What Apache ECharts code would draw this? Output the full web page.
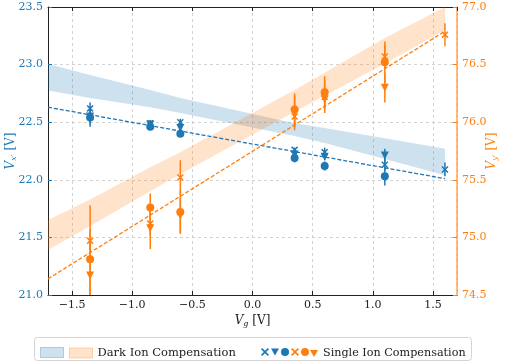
<!DOCTYPE html>
<html>
<head>
<meta charset="utf-8">
<script src="https://cdn.jsdelivr.net/npm/echarts@6/dist/echarts.min.js"></script>
<style>
  html, body { margin: 0; padding: 0; background: #fff; }
  #main { width: 505px; height: 362px; }
</style>
</head>
<body>
<div id="main"></div>
<script>
// gate voltages of the measurements
var gateV = [-1.35, -0.85, -0.6, 0.35, 0.6, 1.1, 1.6];

// V_x' (left axis), single ion compensation, three runs
var xCross = [22.62, 22.49, 22.50, 22.26, 22.24, 22.13, 22.09];
var xCrossErr = [0.05, 0.03, 0.03, 0.02, 0.04, 0.05, 0.06];
var xTri = [22.55, 22.48, 22.45, 22.22, 22.20, 22.21, null];
var xTriErr = [0.06, 0.03, 0.03, 0.03, 0.03, 0.06, null];
var xDot = [22.54, 22.46, 22.40, 22.19, 22.12, 22.03, null];
var xDotErr = [0.08, 0.03, 0.02, 0.04, 0.04, 0.08, null];

// V_y' (right axis), single ion compensation, three runs
var yCross = [74.97, 75.12, 75.52, 76.05, 76.22, 76.57, 76.76];
var yCrossErr = [0.10, 0.10, 0.15, 0.10, 0.14, 0.10, 0.10];
var yDot = [74.81, 75.26, 75.22, 76.11, 76.26, 76.52, null];
var yDotErr = [0.47, 0.12, 0.19, 0.14, 0.14, 0.18, null];
var yTri = [74.67, 75.08, 75.19, 76.08, 76.20, 76.30, null];
var yTriErr = [0.30, 0.18, 0.15, 0.15, 0.10, 0.13, null];

// linear fits (dashed)
var fitV = [-1.7, 1.6];
var fitX = [22.63, 22.01];
var fitY = [74.64, 76.79];

// dark ion compensation bands
var bandV = [-1.7, -1.35, -0.85, -0.6, 0.35, 0.6, 1.1, 1.6];
var bandXLo = [22.775, 22.71, 22.63, 22.58, 22.38, 22.32, 22.18, 22.04];
var bandXHi = [23.005, 22.91, 22.78, 22.71, 22.49, 22.45, 22.36, 22.27];
var bandYLo = [74.89, 75.10, 75.40, 75.55, 76.09, 76.23, 76.51, 76.80];
var bandYHi = [75.15, 75.33, 75.61, 75.74, 76.28, 76.43, 76.73, 77.00];

var blue = '#1f77b4';
var orange = '#ff7f0e';
var font = 'DejaVu Serif';
var crossPath = 'path://M0,1.5 L1.5,0 L5,3.5 L8.5,0 L10,1.5 L6.5,5 L10,8.5 L8.5,10 L5,6.5 L1.5,10 L0,8.5 L3.5,5 Z';
var triPath = 'path://M0,0 L10,0 L5,9 Z';

function fmt(v) {
    return v.toFixed(1).replace('-', '\u2212');
}

function pairs(vals) {
    var out = [];
    for (var i = 0; i < gateV.length; i++) {
        if (vals[i] != null) out.push([gateV[i], vals[i]]);
    }
    return out;
}

function errRows(vals, errs) {
    var out = [];
    for (var i = 0; i < gateV.length; i++) {
        if (vals[i] != null) out.push([gateV[i], vals[i] - errs[i], vals[i] + errs[i]]);
    }
    return out;
}

function errSeries(vals, errs, axis, color) {
    return {
        type: 'custom',
        yAxisIndex: axis,
        clip: true,
        silent: true,
        z: 3,
        data: errRows(vals, errs),
        encode: { x: 0, y: [1, 2] },
        renderItem: function (params, api) {
            var a = api.coord([api.value(0), api.value(1)]);
            var b = api.coord([api.value(0), api.value(2)]);
            return {
                type: 'line',
                shape: { x1: a[0], y1: a[1], x2: b[0], y2: b[1] },
                style: { stroke: color, lineWidth: 1.5 }
            };
        }
    };
}

function markSeries(name, vals, axis, color, symbol, size) {
    return {
        name: name,
        type: 'scatter',
        yAxisIndex: axis,
        symbol: symbol,
        symbolSize: size,
        itemStyle: { color: color, opacity: 1 },
        z: 4,
        data: pairs(vals)
    };
}

function bandSeries(name, lo, hi, axis, fill) {
    var rows = [];
    for (var i = 0; i < bandV.length; i++) rows.push([bandV[i], lo[i], hi[i]]);
    return {
        name: name,
        type: 'custom',
        yAxisIndex: axis,
        clip: true,
        silent: true,
        z: 1,
        itemStyle: { color: fill },
        data: rows,
        encode: { x: 0, y: [1, 2] },
        renderItem: function (params, api) {
            if (params.dataIndex !== 0) return null;
            var pts = [];
            for (var i = 0; i < rows.length; i++) pts.push(api.coord([rows[i][0], rows[i][2]]));
            for (var j = rows.length - 1; j >= 0; j--) pts.push(api.coord([rows[j][0], rows[j][1]]));
            return { type: 'polygon', shape: { points: pts }, style: { fill: fill } };
        }
    };
}

function fitSeries(vals, axis, color) {
    return {
        type: 'line',
        yAxisIndex: axis,
        showSymbol: false,
        silent: true,
        z: 2,
        lineStyle: { color: color, width: 1.3, type: [4, 2] },
        data: [[fitV[0], vals[0]], [fitV[1], vals[1]]]
    };
}

var blueBand = 'rgba(31,119,180,0.22)';
var orangeBand = 'rgba(255,127,14,0.22)';

var chart = echarts.init(document.getElementById('main'), null, { renderer: 'canvas' });

function nameStyle(color) {
    return {
        color: color,
        rich: {
            i: { fontFamily: font, fontStyle: 'italic', fontSize: 12, color: color },
            s: { fontFamily: font, fontStyle: 'italic', fontSize: 8, padding: [6, 0, 0, 0], color: color },
            n: { fontFamily: font, fontSize: 12, color: color }
        }
    };
}

var gridDash = { color: '#c8c8c8', type: [3, 3], width: 0.8 };

var option = {
    animation: false,
    backgroundColor: '#fff',
    textStyle: { fontFamily: font },
    grid: { left: 48, right: 48, top: 7, bottom: 67, containLabel: false, outerBoundsMode: 'none' },
    xAxis: [{
        type: 'value',
        min: -1.7,
        max: 1.7,
        name: '{i|V}{s|g} {n|[V]}',
        nameLocation: 'middle',
        nameGap: 19,
        nameMoveOverlap: false,
        nameTextStyle: nameStyle('#222'),
        axisLine: { onZero: false, lineStyle: { color: '#222', width: 1 } },
        axisTick: { inside: true, length: 4, lineStyle: { color: '#222' } },
        axisLabel: {
            showMinLabel: false, showMaxLabel: false,
            color: '#222', fontFamily: font, fontSize: 11, margin: 5,
            formatter: fmt
        },
        splitLine: { show: true, lineStyle: gridDash }
    }, {
        type: 'value',
        position: 'top',
        min: -1.7,
        max: 1.7,
        axisLine: { onZero: false, lineStyle: { color: '#222', width: 1 } },
        axisTick: { inside: true, length: 4, lineStyle: { color: '#222' } },
        axisLabel: { show: false },
        splitLine: { show: false }
    }],
    yAxis: [{
        type: 'value',
        position: 'left',
        min: 21,
        max: 23.5,
        interval: 0.5,
        name: '{i|V}{s|x\u2032} {n|[V]}',
        nameLocation: 'middle',
        nameRotate: 90,
        nameGap: 30,
        nameMoveOverlap: false,
        nameTextStyle: nameStyle(blue),
        axisLine: { show: true, onZero: false, lineStyle: { color: '#222', width: 1 } },
        axisTick: { show: true, inside: true, length: 4, lineStyle: { color: blue } },
        axisLabel: { color: blue, fontFamily: font, fontSize: 11, margin: 5, formatter: fmt },
        splitLine: { show: true, lineStyle: gridDash }
    }, {
        type: 'value',
        position: 'right',
        min: 74.5,
        max: 77,
        interval: 0.5,
        name: '{i|V}{s|y\u2032} {n|[V]}',
        nameLocation: 'middle',
        nameRotate: 90,
        nameGap: 28,
        nameMoveOverlap: false,
        nameTextStyle: nameStyle(orange),
        axisLine: { show: true, onZero: false, lineStyle: { color: orange, width: 1.5, opacity: 0.7 } },
        axisTick: { show: true, inside: true, length: 4, lineStyle: { color: orange } },
        axisLabel: { color: orange, fontFamily: font, fontSize: 11, margin: 5, formatter: fmt },
        splitLine: { show: false }
    }],
    legend: [{
        left: 35, top: 342,
        itemWidth: 23, itemHeight: 10, itemGap: 1, textGap: 5,
        selectedMode: false,
        formatter: function () { return ''; },
        data: [{ name: 'DarkX', icon: 'rect', itemStyle: { color: blueBand, borderColor: 'rgba(31,119,180,0.3)', borderWidth: 1 } }]
    }, {
        left: 64, top: 342,
        itemWidth: 23, itemHeight: 10, textGap: 5,
        selectedMode: false,
        textStyle: { fontFamily: font, fontSize: 11.5, color: '#222' },
        data: [{ name: 'Dark Ion Compensation', icon: 'rect', itemStyle: { color: orangeBand, borderColor: 'rgba(255,127,14,0.3)', borderWidth: 1 } }]
    }, {
        left: 256, top: 343,
        itemWidth: 8, itemHeight: 8, itemGap: 2, textGap: 0,
        selectedMode: false,
        formatter: function () { return ''; },
        data: ['SX1', 'SX2', 'SX3', 'SY1', 'SY2']
    }, {
        left: 305, top: 343,
        itemWidth: 8, itemHeight: 8, textGap: 4,
        selectedMode: false,
        textStyle: { fontFamily: font, fontSize: 11.2, color: '#222' },
        data: ['Single Ion Compensation']
    }],
    graphic: [{
        type: 'rect',
        left: 34, top: 337, z: -1,
        shape: { width: 437, height: 23, r: 3 },
        style: { fill: 'rgba(255,255,255,0.8)', stroke: '#d4d4d4', lineWidth: 1 }
    }],
    series: [
        bandSeries('DarkX', bandXLo, bandXHi, 0, blueBand),
        bandSeries('Dark Ion Compensation', bandYLo, bandYHi, 1, orangeBand),
        fitSeries(fitX, 0, blue),
        fitSeries(fitY, 1, orange),
        errSeries(xCross, xCrossErr, 0, blue),
        errSeries(xTri, xTriErr, 0, blue),
        errSeries(xDot, xDotErr, 0, blue),
        errSeries(yCross, yCrossErr, 1, orange),
        errSeries(yDot, yDotErr, 1, orange),
        errSeries(yTri, yTriErr, 1, orange),
        markSeries('SX1', xCross, 0, blue, crossPath, 7),
        markSeries('SX2', xTri, 0, blue, triPath, 8),
        markSeries('SX3', xDot, 0, blue, 'circle', 8),
        markSeries('SY1', yCross, 1, orange, crossPath, 7),
        markSeries('SY2', yDot, 1, orange, 'circle', 8),
        markSeries('Single Ion Compensation', yTri, 1, orange, triPath, 8)
    ]
};

chart.setOption(option);
</script>
</body>
</html>
